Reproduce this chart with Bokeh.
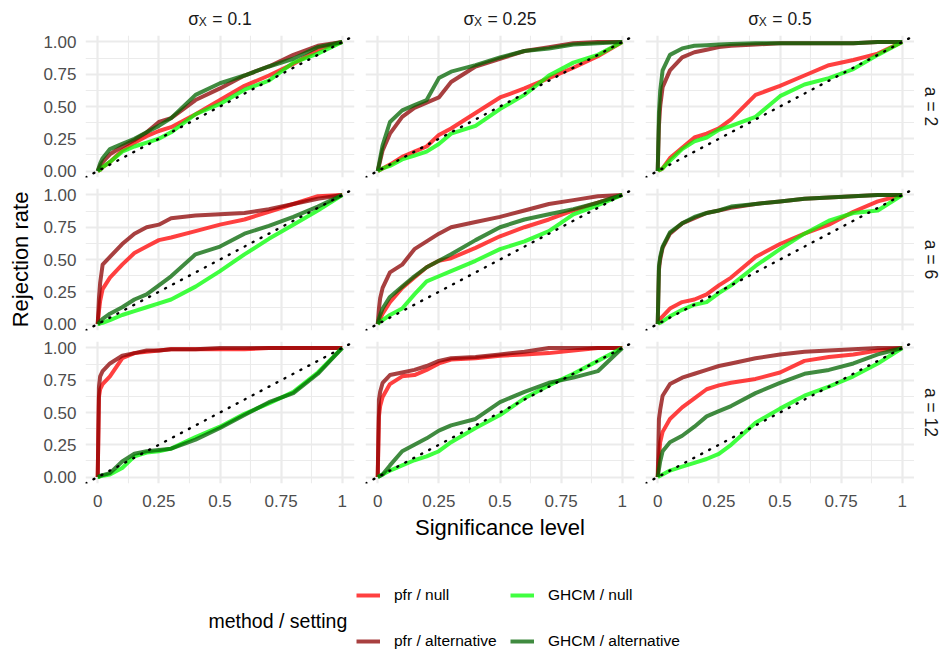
import math
from bokeh.plotting import figure
from bokeh.layouts import gridplot, column
from bokeh.models import (Label, Slope, FixedTicker, Range1d, Legend, LegendItem,
                          ColumnDataSource, NumeralTickFormatter)
from bokeh.embed import file_html
from bokeh.resources import INLINE

# ---------------- data ----------------
alpha_level = [0, 0.005, 0.01, 0.02, 0.05, 0.1, 0.15, 0.2, 0.25, 0.3, 0.4, 0.5, 0.6, 0.7, 0.8, 0.9, 1.0]

sigma_x = ["0.1", "0.25", "0.5"]
a_values = ["2", "6", "12"]
series_labels = ["pfr / null", "pfr / alternative", "GHCM / null", "GHCM / alternative"]
series_colors = ["#FF0000", "#8B0000", "#00FF00", "#006400"]

x_ticks = [0, 0.25, 0.5, 0.75, 1]
x_tick_labels = ["0", "0.25", "0.5", "0.75", "1"]
x_minor = [0.125, 0.375, 0.625, 0.875]
y_ticks = [0, 0.25, 0.5, 0.75, 1]
y_tick_labels = ["0.00", "0.25", "0.50", "0.75", "1.00"]
y_minor = [0.125, 0.375, 0.625, 0.875]

# a = 2
pfr_null_a2_s1 = [0, 0.005, 0.01, 0.03, 0.07, 0.16, 0.22, 0.27, 0.31, 0.34, 0.44, 0.55, 0.66, 0.74, 0.83, 0.94, 1]
pfr_alt_a2_s1 = [0, 0.02, 0.04, 0.07, 0.13, 0.19, 0.24, 0.30, 0.38, 0.41, 0.55, 0.64, 0.74, 0.81, 0.90, 0.97, 1]
ghcm_null_a2_s1 = [0, 0.005, 0.01, 0.03, 0.07, 0.15, 0.19, 0.22, 0.25, 0.30, 0.44, 0.52, 0.63, 0.70, 0.84, 0.91, 1]
ghcm_alt_a2_s1 = [0, 0.03, 0.06, 0.10, 0.17, 0.21, 0.25, 0.30, 0.35, 0.41, 0.59, 0.68, 0.74, 0.81, 0.87, 0.96, 1]

pfr_null_a2_s2 = [0, 0.005, 0.01, 0.02, 0.05, 0.11, 0.15, 0.19, 0.28, 0.33, 0.45, 0.57, 0.64, 0.72, 0.80, 0.89, 1]
pfr_alt_a2_s2 = [0, 0.04, 0.08, 0.16, 0.29, 0.42, 0.49, 0.53, 0.57, 0.69, 0.81, 0.87, 0.93, 0.96, 0.99, 1, 1]
ghcm_null_a2_s2 = [0, 0.005, 0.01, 0.02, 0.04, 0.09, 0.12, 0.15, 0.21, 0.29, 0.35, 0.48, 0.59, 0.74, 0.84, 0.90, 1]
ghcm_alt_a2_s2 = [0, 0.05, 0.10, 0.20, 0.38, 0.47, 0.51, 0.55, 0.72, 0.77, 0.82, 0.88, 0.93, 0.95, 0.98, 0.99, 1]

pfr_null_a2_s3 = [0, 0.01, 0.01, 0.02, 0.10, 0.18, 0.26, 0.29, 0.33, 0.40, 0.59, 0.66, 0.74, 0.82, 0.86, 0.91, 1]
pfr_alt_a2_s3 = [0, 0.35, 0.50, 0.65, 0.78, 0.88, 0.92, 0.94, 0.96, 0.97, 0.98, 0.99, 0.99, 0.99, 0.99, 1, 1]
ghcm_null_a2_s3 = [0, 0.01, 0.01, 0.02, 0.08, 0.17, 0.23, 0.26, 0.32, 0.35, 0.42, 0.58, 0.67, 0.72, 0.79, 0.90, 1]
ghcm_alt_a2_s3 = [0, 0.45, 0.62, 0.78, 0.90, 0.95, 0.97, 0.975, 0.98, 0.985, 0.99, 0.99, 0.99, 0.99, 0.99, 1, 1]

# a = 6
pfr_null_a6_s1 = [0, 0.10, 0.18, 0.27, 0.36, 0.46, 0.55, 0.60, 0.65, 0.67, 0.72, 0.77, 0.81, 0.87, 0.93, 0.99, 1]
pfr_alt_a6_s1 = [0, 0.20, 0.32, 0.46, 0.52, 0.62, 0.70, 0.75, 0.77, 0.82, 0.84, 0.85, 0.86, 0.89, 0.93, 0.97, 1]
ghcm_null_a6_s1 = [0, 0, 0.005, 0.01, 0.03, 0.07, 0.10, 0.13, 0.16, 0.19, 0.29, 0.41, 0.54, 0.66, 0.77, 0.88, 1]
ghcm_alt_a6_s1 = [0, 0.01, 0.02, 0.04, 0.08, 0.13, 0.19, 0.23, 0.30, 0.37, 0.54, 0.60, 0.70, 0.76, 0.83, 0.91, 1]

pfr_null_a6_s2 = [0, 0.02, 0.04, 0.08, 0.17, 0.28, 0.36, 0.44, 0.49, 0.51, 0.59, 0.68, 0.75, 0.81, 0.88, 0.94, 1]
pfr_alt_a6_s2 = [0, 0.12, 0.20, 0.28, 0.40, 0.46, 0.58, 0.64, 0.70, 0.75, 0.79, 0.83, 0.88, 0.93, 0.96, 0.99, 1]
ghcm_null_a6_s2 = [0, 0.01, 0.02, 0.03, 0.07, 0.12, 0.23, 0.33, 0.37, 0.41, 0.49, 0.58, 0.64, 0.72, 0.85, 0.92, 1]
ghcm_alt_a6_s2 = [0, 0.04, 0.07, 0.12, 0.21, 0.29, 0.37, 0.44, 0.49, 0.54, 0.65, 0.75, 0.81, 0.85, 0.89, 0.94, 1]

pfr_null_a6_s3 = [0, 0.02, 0.04, 0.06, 0.12, 0.17, 0.19, 0.23, 0.30, 0.36, 0.52, 0.62, 0.70, 0.77, 0.87, 0.95, 1]
pfr_alt_a6_s3 = [0, 0.42, 0.50, 0.59, 0.70, 0.78, 0.82, 0.86, 0.88, 0.90, 0.93, 0.95, 0.97, 0.98, 0.99, 1, 1]
ghcm_null_a6_s3 = [0, 0.01, 0.01, 0.02, 0.06, 0.11, 0.15, 0.17, 0.24, 0.30, 0.45, 0.58, 0.70, 0.80, 0.86, 0.88, 1]
ghcm_alt_a6_s3 = [0, 0.45, 0.52, 0.60, 0.71, 0.78, 0.83, 0.86, 0.88, 0.91, 0.93, 0.95, 0.97, 0.98, 0.99, 1, 1]

# a = 12
pfr_null_a12_s1 = [0, 0.62, 0.68, 0.72, 0.78, 0.92, 0.96, 0.97, 0.98, 0.99, 0.99, 0.99, 0.99, 1, 1, 1, 1]
pfr_alt_a12_s1 = [0, 0.70, 0.78, 0.82, 0.88, 0.94, 0.96, 0.98, 0.98, 0.99, 0.99, 1, 1, 1, 1, 1, 1]
ghcm_null_a12_s1 = [0, 0, 0.005, 0.01, 0.02, 0.07, 0.16, 0.19, 0.20, 0.22, 0.31, 0.39, 0.49, 0.57, 0.66, 0.81, 1]
ghcm_alt_a12_s1 = [0, 0.005, 0.01, 0.015, 0.03, 0.12, 0.18, 0.20, 0.21, 0.22, 0.29, 0.38, 0.48, 0.58, 0.65, 0.80, 1]

pfr_null_a12_s2 = [0, 0.47, 0.55, 0.62, 0.72, 0.78, 0.79, 0.83, 0.88, 0.91, 0.92, 0.94, 0.95, 0.96, 0.98, 1, 1]
pfr_alt_a12_s2 = [0, 0.60, 0.66, 0.73, 0.79, 0.81, 0.83, 0.86, 0.90, 0.92, 0.93, 0.95, 0.97, 1, 1, 1, 1]
ghcm_null_a12_s2 = [0, 0.005, 0.01, 0.02, 0.05, 0.09, 0.13, 0.16, 0.20, 0.27, 0.38, 0.48, 0.61, 0.71, 0.80, 0.90, 1]
ghcm_alt_a12_s2 = [0, 0.005, 0.01, 0.02, 0.09, 0.20, 0.25, 0.30, 0.36, 0.40, 0.45, 0.58, 0.66, 0.73, 0.77, 0.82, 1]

pfr_null_a12_s3 = [0, 0.15, 0.27, 0.35, 0.45, 0.54, 0.61, 0.68, 0.71, 0.73, 0.76, 0.81, 0.90, 0.93, 0.95, 0.98, 1]
pfr_alt_a12_s3 = [0, 0.45, 0.52, 0.63, 0.72, 0.77, 0.80, 0.83, 0.86, 0.88, 0.92, 0.95, 0.97, 0.98, 0.99, 1, 1]
ghcm_null_a12_s3 = [0, 0.005, 0.01, 0.02, 0.05, 0.08, 0.11, 0.14, 0.18, 0.25, 0.42, 0.53, 0.63, 0.70, 0.78, 0.88, 1]
ghcm_alt_a12_s3 = [0, 0.06, 0.12, 0.20, 0.27, 0.32, 0.39, 0.47, 0.51, 0.55, 0.65, 0.73, 0.80, 0.83, 0.88, 0.95, 1]

panels = [
    [[pfr_null_a2_s1, pfr_alt_a2_s1, ghcm_null_a2_s1, ghcm_alt_a2_s1],
     [pfr_null_a2_s2, pfr_alt_a2_s2, ghcm_null_a2_s2, ghcm_alt_a2_s2],
     [pfr_null_a2_s3, pfr_alt_a2_s3, ghcm_null_a2_s3, ghcm_alt_a2_s3]],
    [[pfr_null_a6_s1, pfr_alt_a6_s1, ghcm_null_a6_s1, ghcm_alt_a6_s1],
     [pfr_null_a6_s2, pfr_alt_a6_s2, ghcm_null_a6_s2, ghcm_alt_a6_s2],
     [pfr_null_a6_s3, pfr_alt_a6_s3, ghcm_null_a6_s3, ghcm_alt_a6_s3]],
    [[pfr_null_a12_s1, pfr_alt_a12_s1, ghcm_null_a12_s1, ghcm_alt_a12_s1],
     [pfr_null_a12_s2, pfr_alt_a12_s2, ghcm_null_a12_s2, ghcm_alt_a12_s2],
     [pfr_null_a12_s3, pfr_alt_a12_s3, ghcm_null_a12_s3, ghcm_alt_a12_s3]],
]

# ---------------- styling ----------------
FONT = "Liberation Sans"
TICK_SIZE = "17px"
STRIP_SIZE = "17.5px"
TITLE_SIZE = "22px"
GRID_COL = "#EBEBEB"
LINE_ALPHA = 0.75
LINE_W = 4
FW, FH = 269, 142
YT_W = 38       # width of the y-title column
STRIP_W = 26    # width of the right strip column
STRIP_H = 31    # height of the top strip row

CW = {"=": 0.584, " ": 0.278, ".": 0.278}
def text_width(s, size):
    return sum(CW.get(ch, 0.556) for ch in s) * size


def borders(r, c):
    left = 47 if c == 0 else 6
    right = 0 if c == 2 else 5
    top = 4 if r == 0 else 6
    bottom = 30 if r == 2 else 5
    return left, right, top, bottom


def blank(width, height, x_range, y_range, left=0, right=0, top=0, bottom=0):
    p = figure(width=width, height=height, x_range=x_range, y_range=y_range,
               output_backend="svg", toolbar_location=None,
               x_axis_location=None, y_axis_location=None,
               min_border_left=left, min_border_right=right,
               min_border_top=top, min_border_bottom=bottom)
    p.outline_line_color = None
    p.grid.visible = False
    return p


def make_panel(r, c):
    left, right, top, bottom = borders(r, c)
    p = figure(width=left + FW + right, height=top + FH + bottom,
               x_range=Range1d(-0.05, 1.05), y_range=Range1d(-0.05, 1.05),
               output_backend="svg", toolbar_location=None,
               x_axis_location="below" if r == 2 else None,
               y_axis_location="left" if c == 0 else None,
               min_border_left=left, min_border_right=right,
               min_border_top=top, min_border_bottom=bottom)
    p.outline_line_color = None

    p.xgrid.ticker = FixedTicker(ticks=x_ticks, minor_ticks=x_minor)
    p.ygrid.ticker = FixedTicker(ticks=y_ticks, minor_ticks=y_minor)
    for g in (p.xgrid, p.ygrid):
        g.grid_line_color = GRID_COL
        g.grid_line_width = 2.2
        g.minor_grid_line_color = GRID_COL
        g.minor_grid_line_width = 1.1

    if r == 2:
        ax = p.xaxis[0]
        ax.ticker = FixedTicker(ticks=x_ticks, minor_ticks=[])
        ax.formatter = NumeralTickFormatter(format="0.[00]")
        ax.major_label_overrides = {t: l for t, l in zip(x_ticks, x_tick_labels)}
        ax.major_label_standoff = 11
    if c == 0:
        ax = p.yaxis[0]
        ax.ticker = FixedTicker(ticks=y_ticks, minor_ticks=[])
        ax.formatter = NumeralTickFormatter(format="0.00")
        ax.major_label_overrides = {t: l for t, l in zip(y_ticks, y_tick_labels)}
        ax.major_label_standoff = 9
    for ax in p.axis:
        ax.axis_line_color = None
        ax.major_tick_line_color = None
        ax.minor_tick_line_color = None
        ax.major_tick_out = 0
        ax.major_tick_in = 0
        ax.minor_tick_out = 0
        ax.minor_tick_in = 0
        ax.major_label_text_color = "#4D4D4D"
        ax.major_label_text_font = FONT
        ax.major_label_text_font_size = TICK_SIZE

    for vals, col in zip(panels[r][c], series_colors):
        p.line(alpha_level, vals, line_color=col, line_alpha=LINE_ALPHA,
               line_width=LINE_W, line_join="round")

    p.add_layout(Slope(gradient=1, y_intercept=0, line_color="black",
                       line_dash="1 8", line_width=2.4, line_cap="round"))
    return p


def make_top_strip(c):
    left, right, _, _ = borders(0, c)
    p = blank(left + FW + right, STRIP_H, Range1d(-0.05, 1.05), Range1d(0, STRIP_H),
              left=left, right=right)
    rest = "= " + sigma_x[c]
    w_sigma, w_x, gap = 10.5, 8.5, 5.0
    total = w_sigma + w_x + gap + text_width(rest, 17.5)
    start = -total / 2
    base = 12.5
    p.add_layout(Label(x=0.5, y=base, x_offset=start, text="σ",
                       text_font=FONT, text_font_size=STRIP_SIZE, text_color="#1A1A1A",
                       text_align="left", text_baseline="alphabetic"))
    p.add_layout(Label(x=0.5, y=base - 3, x_offset=start + w_sigma, text="X",
                       text_font=FONT, text_font_size="12px", text_color="#1A1A1A",
                       text_align="left", text_baseline="alphabetic"))
    p.add_layout(Label(x=0.5, y=base, x_offset=start + w_sigma + w_x + gap,
                       text=rest, text_font=FONT, text_font_size=STRIP_SIZE,
                       text_color="#1A1A1A", text_align="left", text_baseline="alphabetic"))
    return p


def make_right_strip(r):
    _, _, top, bottom = borders(r, 2)
    p = blank(STRIP_W, top + FH + bottom, Range1d(0, STRIP_W), Range1d(-0.05, 1.05),
              top=top, bottom=bottom)
    p.add_layout(Label(x=16, y=0.5, text="a = " + a_values[r],
                       angle=-math.pi / 2, text_font=FONT, text_font_size=STRIP_SIZE,
                       text_color="#1A1A1A", text_align="center", text_baseline="middle"))
    return p


def make_ytitle():
    _, _, top, bottom = borders(1, 0)
    p = blank(YT_W, top + FH + bottom, Range1d(0, YT_W), Range1d(-0.05, 1.05),
              top=top, bottom=bottom)
    p.add_layout(Label(x=20, y=0.5, text="Rejection rate",
                       angle=math.pi / 2, text_font=FONT, text_font_size=TITLE_SIZE,
                       text_color="black", text_align="center", text_baseline="middle"))
    return p


rows = [[None] + [make_top_strip(c) for c in range(3)] + [None]]
for r in range(3):
    rows.append([make_ytitle() if r == 1 else None]
                + [make_panel(r, c) for c in range(3)]
                + [make_right_strip(r)])
grid = gridplot(rows, toolbar_location=None)

# ---------------- bottom: x title + legend ----------------
BW, BH = 940, 139
bottom = blank(BW, BH, Range1d(0, BW), Range1d(0, BH))

bottom.add_layout(Label(x=499.5, y=125, text="Significance level", text_font=FONT,
                        text_font_size=TITLE_SIZE, text_color="black",
                        text_align="center", text_baseline="middle"))
bottom.add_layout(Label(x=208, y=32, text="method / setting", text_font=FONT,
                        text_font_size="19.5px", text_color="black",
                        text_align="left", text_baseline="middle"))

renderers = []
for col in series_colors:
    src = ColumnDataSource(data=dict(x=[float("nan")], y=[float("nan")]))
    renderers.append(bottom.line("x", "y", source=src, line_color=col, line_alpha=LINE_ALPHA,
                                 line_width=4))


def make_legend(idx, loc):
    lg = Legend(items=[LegendItem(label=series_labels[i], renderers=[renderers[i]]) for i in idx],
                location=loc, orientation="vertical",
                glyph_width=24, glyph_height=16, label_height=16, spacing=28,
                label_standoff=14, padding=0, margin=0,
                border_line_color=None, background_fill_alpha=0,
                label_text_font=FONT, label_text_font_size="15.5px", label_text_color="black")
    bottom.add_layout(lg)


make_legend([0, 1], (356, 2))
make_legend([2, 3], (510, 2))

layout = column(grid, bottom)
open("out.html", "w").write(file_html(layout, INLINE))
